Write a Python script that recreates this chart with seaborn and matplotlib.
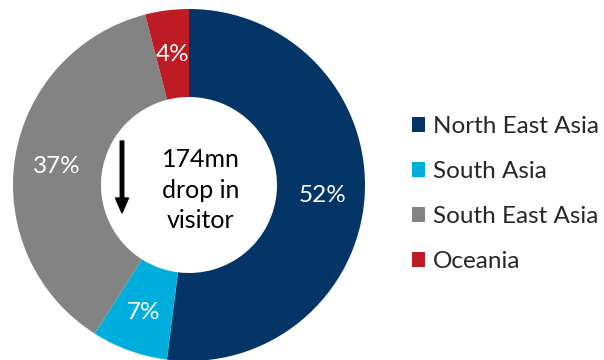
import matplotlib
matplotlib.use("Agg")
import matplotlib.pyplot as plt
from matplotlib.patches import Patch
import seaborn as sns

# Share of the drop in visitors by source region
regions = ["North East Asia", "South Asia", "South East Asia", "Oceania"]
shares = [52, 7, 37, 4]
colors = ["#033567", "#00AEDE", "#838383", "#BE1B24"]
center_note = "174mn\ndrop in\nvisitor"

sns.set_theme(style="white")
plt.rcParams["font.family"] = ["Lato", "DejaVu Sans"]

W, H = 604, 360
fig = plt.figure(figsize=(W / 100, H / 100), dpi=100)
ax = fig.add_axes([0, 0, 1, 1])

cx, cy = 189, H - 185
r_out = 176
ring = 0.5

wedges, _, autotexts = ax.pie(
    shares,
    colors=colors,
    startangle=90,
    counterclock=False,
    center=(cx, cy),
    radius=r_out,
    autopct=lambda p: f"{p:.0f}%",
    pctdistance=0.76,
    wedgeprops=dict(width=r_out * ring, linewidth=0),
    textprops=dict(color="white", fontsize=17.5),
)
for t in autotexts:
    t.set_va("center_baseline")

ax.set_xlim(0, W)
ax.set_ylim(0, H)
ax.set_aspect("equal")
ax.axis("off")

# Note in the hole of the ring
ax.text(201, H - 190, center_note, ha="center", va="center",
        fontsize=18, color="black", linespacing=1.4)
ax.arrow(122, H - 141, 0, -72, width=3.5, head_width=13, head_length=15,
         length_includes_head=True, color="black")

handles = [Patch(facecolor=c, edgecolor="none") for c in colors]
fig.legend(handles, regions, loc="upper left",
           bbox_to_anchor=(412 / W, 1 - 116 / H),
           frameon=False, fontsize=17.5,
           handlelength=0.55, handleheight=0.55, handletextpad=0.3,
           labelspacing=0.99, borderaxespad=0, borderpad=0)

fig.savefig("out.png", dpi=100)
